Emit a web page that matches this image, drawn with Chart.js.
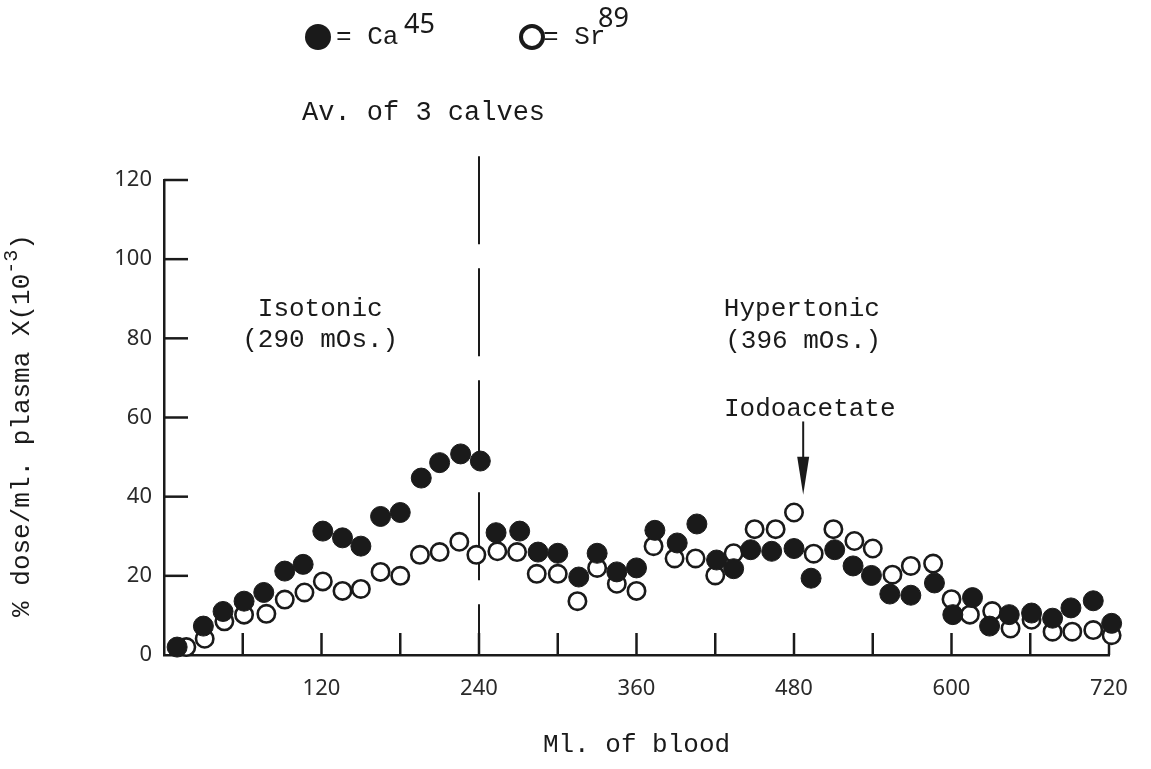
<!DOCTYPE html>
<html>
<head>
<meta charset="utf-8">
<script src="https://cdn.jsdelivr.net/npm/chart.js@4.4.1/dist/chart.umd.min.js"></script>
<style>
html, body { margin: 0; background: #fff; }
</style>
</head>
<body>
<canvas id="ChartA" width="1151" height="769"></canvas>
<script>
// Ca45 (filled) and Sr89 (open), av. of 3 calves
let caX = [10, 30, 45, 61, 76, 92, 106, 121, 136, 150, 165, 180, 196, 210, 226, 241,
  253, 271, 285, 300, 316, 330, 345, 360, 374, 391, 406, 421, 434, 447, 463, 480, 493,
  511, 525, 539, 553, 569, 587, 601, 616, 629, 644, 661, 677, 691, 708, 722];
let caY = [2, 7.3, 11, 13.6, 15.8, 21.2, 22.9, 31.3, 29.6, 27.5, 35, 36, 44.7, 48.6, 50.8, 49,
  30.9, 31.3, 26, 25.7, 19.7, 25.7, 21, 22, 31.5, 28.3, 33.1, 24, 21.8, 26.6, 26.2, 26.9, 19.4,
  26.6, 22.5, 20.1, 15.4, 15.1, 18.2, 10.2, 14.5, 7.3, 10.2, 10.6, 9.3, 11.9, 13.7, 8];

let srX = [17, 31, 46, 61, 78, 92, 107, 121, 136, 150, 165, 180, 195, 210, 225, 238,
  254, 269, 284, 300, 315, 330, 345, 360, 373, 389, 405, 420, 434, 450, 466, 480, 495,
  510, 526, 540, 555, 569, 586, 600, 614, 631, 645, 661, 677, 692, 708, 722];
let srY = [2, 4.1, 8.5, 10.2, 10.4, 14, 15.8, 18.6, 16.2, 16.7, 21, 20, 25.3, 26, 28.6, 25.3,
  26.2, 26, 20.5, 20.5, 13.6, 22, 18, 16.2, 27.5, 24.4, 24.4, 20.1, 25.7, 31.8, 31.8, 36, 25.6,
  31.8, 28.8, 26.9, 20.3, 22.5, 23.1, 14.1, 10.2, 11.1, 6.7, 8.9, 5.9, 5.9, 6.3, 5];

let xTicks = [60, 120, 180, 240, 300, 360, 420, 480, 540, 600, 660, 720];
let yTicks = [20, 40, 60, 80, 100, 120];

let mono = '"Liberation Mono", "DejaVu Sans Mono", monospace';
let sans = '"Noto Sans", "DejaVu Sans", sans-serif';
let ink = '#1a1a1a';

function toPoints(xs, ys) {
  let out = [];
  for (let i = 0; i < xs.length; i++) out.push({x: xs[i], y: ys[i]});
  return out;
}

let drawExtras = {
  id: 'drawExtras',
  beforeDatasetsDraw: function(chart) {
    let c = chart.ctx, sx = chart.scales.x, sy = chart.scales.y;
    let a = chart.chartArea;
    c.save();
    c.strokeStyle = ink;
    c.lineWidth = 2.5;
    // inward ticks
    xTicks.forEach(function(v) {
      let p = sx.getPixelForValue(v);
      c.beginPath(); c.moveTo(p, a.bottom); c.lineTo(p, a.bottom - 22); c.stroke();
    });
    yTicks.forEach(function(v) {
      let p = sy.getPixelForValue(v);
      c.beginPath(); c.moveTo(a.left, p); c.lineTo(a.left + 24, p); c.stroke();
    });
    // dashed divider at 240
    let dx = sx.getPixelForValue(240);
    c.lineWidth = 2;
    c.setLineDash([88, 24]);
    c.beginPath(); c.moveTo(dx, sy.getPixelForValue(126)); c.lineTo(dx, a.bottom); c.stroke();
    c.setLineDash([]);
    c.restore();
  },
  afterDraw: function(chart) {
    let c = chart.ctx, sx = chart.scales.x, sy = chart.scales.y;
    let a = chart.chartArea;
    c.save();
    c.fillStyle = ink;
    c.strokeStyle = ink;
    c.font = '26px ' + mono;
    c.textAlign = 'center';
    c.textBaseline = 'middle';
    c.fillText('Isotonic', sx.getPixelForValue(119), sy.getPixelForValue(87.5));
    c.fillText('(290 mOs.)', sx.getPixelForValue(119), sy.getPixelForValue(79.5));
    c.fillText('Hypertonic', sx.getPixelForValue(486), sy.getPixelForValue(87.3));
    c.fillText('(396 mOs.)', sx.getPixelForValue(487), sy.getPixelForValue(79.2));
    c.fillText('Iodoacetate', sx.getPixelForValue(492), sy.getPixelForValue(62.2));

    // arrow
    let ax = sx.getPixelForValue(487);
    let y1 = sy.getPixelForValue(59), y2 = sy.getPixelForValue(40.5);
    c.lineWidth = 2;
    c.beginPath(); c.moveTo(ax, y1); c.lineTo(ax, y2 - 30); c.stroke();
    c.beginPath();
    c.moveTo(ax - 6, y2 - 38); c.lineTo(ax + 6, y2 - 38); c.lineTo(ax, y2); c.closePath();
    c.fill();

    // y axis title with superscript
    let t1 = '% dose/ml. plasma X(10', t2 = '-3', t3 = ')';
    c.font = '26px ' + mono;
    let w1 = c.measureText(t1).width, w3 = c.measureText(t3).width;
    c.font = '20px ' + mono;
    let w2 = c.measureText(t2).width;
    let total = w1 + w2 + w3;
    c.translate(22, (a.top + a.bottom) / 2 + 8);
    c.rotate(-Math.PI / 2);
    c.textAlign = 'left';
    c.textBaseline = 'middle';
    c.font = '26px ' + mono;
    c.fillText(t1, -total / 2, 0);
    c.fillText(t3, -total / 2 + w1 + w2, 0);
    c.font = '20px ' + mono;
    c.fillText(t2, -total / 2 + w1, -10);
    c.setTransform(1, 0, 0, 1, 0, 0);

    // key at top
    c.beginPath(); c.arc(318, 37, 13, 0, Math.PI * 2); c.fill();
    c.lineWidth = 4;
    c.beginPath(); c.arc(532, 37, 11, 0, Math.PI * 2); c.stroke();
    c.textAlign = 'left';
    c.textBaseline = 'alphabetic';
    c.font = '26px ' + mono;
    c.fillText('= Ca', 336, 44);
    c.fillText('= Sr', 543, 44);
    c.font = '27px ' + sans;
    c.fillText('45', 404, 33);
    c.fillText('89', 598, 27);
    c.font = '27px ' + mono;
    c.fillText('Av. of 3 calves', 302, 120);
    c.restore();
  }
};

let ctx = document.getElementById('ChartA').getContext('2d');
let myChart = new Chart(ctx, {
  type: 'scatter',
  data: {
    datasets: [
      {
        label: 'Ca45',
        data: toPoints(caX, caY),
        pointRadius: 10,
        pointHoverRadius: 10,
        pointBackgroundColor: ink,
        pointBorderColor: ink,
        pointBorderWidth: 1,
        clip: false
      },
      {
        label: 'Sr89',
        data: toPoints(srX, srY),
        pointRadius: 8.7,
        pointHoverRadius: 8.7,
        pointBackgroundColor: '#fff',
        pointBorderColor: ink,
        pointBorderWidth: 2.6,
        clip: false
      }
    ]
  },
  options: {
    responsive: false,
    animation: false,
    layout: { padding: { left: 0, top: 180, right: 42, bottom: 0 } },
    plugins: { legend: { display: false }, tooltip: { enabled: false } },
    scales: {
      x: {
        type: 'linear',
        min: 0, max: 720,
        afterFit: function(s) { s.height = 114; },
        grid: { display: false, drawTicks: false },
        border: { display: true, color: ink, width: 2.5 },
        ticks: {
          stepSize: 60,
          autoSkip: false,
          maxRotation: 0,
          padding: 21,
          color: '#2a2a2a',
          font: { family: sans, size: 22 },
          callback: function(v) { return (v > 0 && v % 120 === 0) ? v : ''; }
        },
        title: {
          display: true,
          text: 'Ml. of blood',
          color: ink,
          font: { family: mono, size: 26 },
          padding: { top: 0, bottom: 8 }
        }
      },
      y: {
        min: 0, max: 120,
        afterFit: function(s) { s.width = 164; },
        grid: { display: false, drawTicks: false },
        border: { display: true, color: ink, width: 2.5 },
        ticks: {
          stepSize: 20,
          padding: 12,
          color: '#2a2a2a',
          font: { family: sans, size: 22 }
        }
      }
    }
  },
  plugins: [drawExtras]
});
</script>
</body>
</html>
